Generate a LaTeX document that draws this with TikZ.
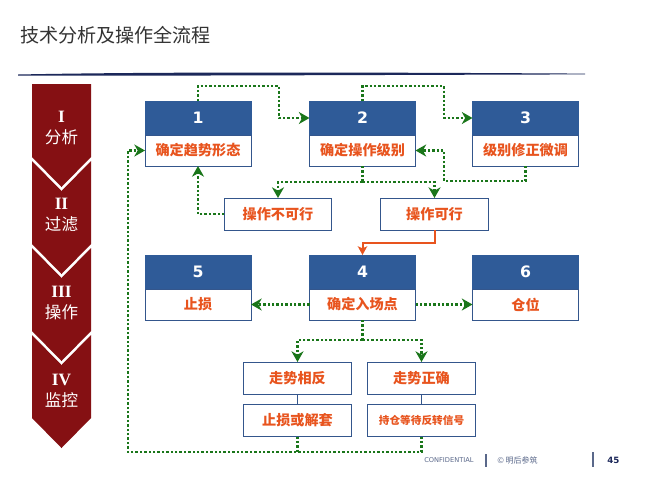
\documentclass[tikz,border=0pt]{standalone}
\usepackage{fontspec}
\setmainfont{DejaVu Sans}
\newfontfamily\cjk{Noto Sans CJK SC}
\newfontfamily\romf{Liberation Serif}
\usetikzlibrary{arrows.meta}
\definecolor{hdrblue}{RGB}{47,91,152}
\definecolor{lineblue}{RGB}{52,86,140}
\definecolor{lblorange}{RGB}{232,84,30}
\definecolor{dotgreen}{RGB}{26,118,26}
\definecolor{chevred}{RGB}{133,16,19}
\definecolor{navy}{RGB}{28,40,90}
\definecolor{footgray}{RGB}{90,104,138}
\tikzset{
  hdrbox/.style={draw=hdrblue, fill=hdrblue, line width=0.75pt, minimum width=79.5pt, minimum height=25.5pt, inner sep=0pt, outer sep=0pt, text=white, font=\fontsize{11.8}{12}\selectfont\bfseries},
  lblbox/.style={draw=lineblue, fill=white, line width=0.75pt, minimum width=79.5pt, minimum height=23.25pt, inner sep=0pt, outer sep=0pt, text=lblorange, font=\cjk\fontsize{10.6}{12}\selectfont\bfseries},
  smallbox/.style={draw=lineblue, fill=white, line width=0.75pt, minimum width=80.5pt, minimum height=24pt, inner sep=0pt, outer sep=0pt, text=lblorange, font=\cjk\fontsize{10.6}{12}\selectfont\bfseries},
  gdot/.style={draw=dotgreen, line width=2.2pt, dash pattern=on 1.8pt off 1.5pt},
  garrow/.style={gdot, -{Stealth[length=8pt,width=9pt,inset=2.5pt]}},
  oarrow/.style={draw=lblorange, line width=1.5pt, -{Stealth[length=6.5pt,width=7pt,inset=1.5pt]}},
  thinblue/.style={draw=lineblue, line width=0.6pt},
  chev/.style={fill=chevred},
  romtxt/.style={text=white, font=\romf\fontsize{13}{13}\selectfont\bfseries},
  chtxt/.style={text=white, font=\cjk\fontsize{12.4}{13}\selectfont},
}
\begin{document}
\begin{tikzpicture}[x=0.75pt,y=-0.75pt]
\useasboundingbox[fill=white] (0,0) rectangle (653,494);

% title
\node[anchor=west, inner sep=0pt, text=black!80, font=\cjk\fontsize{14.3}{15}\selectfont] (title) at (20,35) {技术分析及操作全流程};
% header rule
\fill[navy] (18,74.5) .. controls (150,71.8) and (350,72.2) .. (585,73.6) -- (585,74.4) .. controls (350,75) and (150,76) .. (18,75.5) -- cycle;

% chevrons
\fill[chev] (32,84) -- (91,84) -- (91,157) -- (61.5,187) -- (32,157) -- cycle;
\foreach \k in {1,2,3}{
  \fill[chev] (32,74+87*\k) -- (61.5,104+87*\k) -- (91,74+87*\k) -- (91,157+87*\k) -- (61.5,187+87*\k) -- (32,157+87*\k) -- cycle;
}
\node[romtxt] (r1t) at (61.5,117) {I};
\node[chtxt] (c1t) at (61.5,137) {分析};
\node[romtxt] (r2t) at (61.5,204) {II};
\node[chtxt] (c2t) at (61.5,224) {过滤};
\node[romtxt] (r3t) at (61.5,292) {III};
\node[chtxt] (c3t) at (61.5,312) {操作};
\node[romtxt] (r4t) at (61.5,380) {IV};
\node[chtxt] (c4t) at (61.5,400) {监控};

% top row boxes
\node[hdrbox] (h1) at (198,118) {1};
\node[lblbox] (b1) at (198,150.5) {确定趋势形态};
\node[hdrbox] (h2) at (362.5,118) {2};
\node[lblbox] (b2) at (362.5,150.5) {确定操作级别};
\node[hdrbox] (h3) at (525.5,118) {3};
\node[lblbox] (b3) at (525.5,150.5) {级别修正微调};

% middle small boxes
\node[smallbox] (nf) at (278,214) {操作不可行};
\node[smallbox] (f) at (434.5,214) {操作可行};

% second row
\node[hdrbox] (h5) at (198,272) {5};
\node[lblbox] (b5) at (198,304.5) {止损};
\node[hdrbox] (h4) at (362.5,272) {4};
\node[lblbox] (b4) at (362.5,304.5) {确定入场点};
\node[hdrbox] (h6) at (525.5,272) {6};
\node[lblbox] (b6) at (525.5,304.5) {仓位};

% bottom boxes
\node[smallbox] (r1) at (297.5,378) {走势相反};
\node[smallbox] (s1) at (297.5,420.5) {止损或解套};
\node[smallbox] (r2) at (421.5,378) {走势正确};
\node[smallbox, font=\cjk\fontsize{8}{9}\selectfont\bfseries] (s2) at (421.5,420.5) {持仓等待反转信号};
\draw[thinblue] (r1.south) -- (s1.north);
\draw[thinblue] (r2.south) -- (s2.north);

% coordinates
\coordinate (t1) at (279,86);
\coordinate (t2) at (444,86);
\coordinate (t3) at (444,181);
\coordinate (j1) at (362.5,182);
\coordinate (j2) at (362.5,340);
\coordinate (lb) at (128,452);

% connectors
\draw[garrow] (h1.north) |- (t1) |- (h2.west);
\draw[garrow] (h2.north) |- (t2) |- (h3.west);
\draw[garrow] (b3.south) |- (t3) |- (b2.east);
\draw[gdot] (b2.south) -- (j1);
\draw[garrow] (j1) -| (nf.north);
\draw[garrow] (j1) -| (f.north);
\draw[garrow] (nf.west) -| (b1.south);
\draw[oarrow] (f.south) -- ++(0,13) -| (h4.north);
\draw[garrow] (b4.west) -- (b5.east);
\draw[garrow] (b4.east) -- (b6.west);
\draw[gdot] (b4.south) -- (j2);
\draw[garrow] (j2) -| (r1.north);
\draw[garrow] (j2) -| (r2.north);
\draw[gdot] (s1.south) -- (s1.south |- lb);
\draw[garrow] (s2.south) |- (lb) |- (b1.west);

% footer
\node[anchor=west, inner sep=0pt, text=footgray, font=\fontsize{5}{6}\selectfont] (conf) at (424,460) {CONFIDENTIAL};
\draw[footgray, line width=0.8pt] (486,454) -- (486,467);
\node[anchor=west, inner sep=0pt, text=footgray, font=\cjk\fontsize{6}{7}\selectfont] (copy) at (497,460) {© 明后参筑};
\draw[footgray, line width=0.8pt] (593,452) -- (593,467);
\node[anchor=west, inner sep=0pt, text=navy, font=\fontsize{6.5}{7}\selectfont\bfseries] (pg) at (607,460) {45};
\end{tikzpicture}
\end{document}
